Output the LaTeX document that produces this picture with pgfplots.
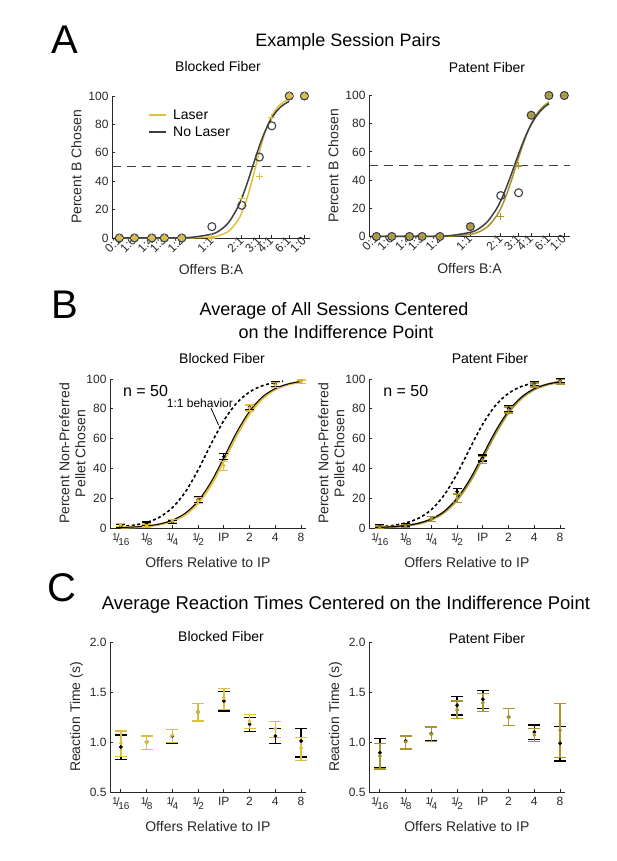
\documentclass[border=0pt]{standalone}
\usepackage{fontspec}
\setmainfont{Liberation Sans}
\usepackage{pgfplots}
\pgfplotsset{compat=1.18}

\definecolor{goldL}{RGB}{224,192,58}
\definecolor{goldR}{RGB}{168,148,40}
\definecolor{darkg}{RGB}{62,62,72}
\definecolor{fillL}{RGB}{200,184,112}
\definecolor{fillR}{RGB}{178,164,96}
\definecolor{axgray}{RGB}{40,40,40}

% fraction tick labels like 1/16
\newcommand\fr[2]{\raisebox{0.4ex}{\fontsize{10}{10}\selectfont #1}\kern-0.12em/\kern-0.12em\raisebox{-0.35ex}{\fontsize{10}{10}\selectfont #2}}

\pgfplotsset{
  panel/.style={scale only axis, axis lines*=left, tick align=inside,
    major tick length=3pt,
    axis line style={line width=0.9pt, axgray},
    every tick/.style={line width=0.8pt, axgray},
    tick label style={font=\fontsize{12}{14}\selectfont, text=axgray},
    label style={font=\fontsize{14}{16}\selectfont, text=axgray},
    /pgf/number format/assume math mode=true, clip=false},
  panA/.style={panel, width=198pt, height=142pt,
    xmin=-2.31, xmax=2.27, ymin=0, ymax=100,
    xtick={-2.14,-1.79,-1.386,-1.099,-0.693,0,0.693,1.099,1.386,1.79,2.14},
    xticklabels={0:1,1:6,1:4,1:3,1:2,1:1,2:1,3:1,4:1,6:1,1:0},
    xticklabel style={rotate=45, anchor=east, inner sep=0.5pt},
    ytick={0,20,40,60,80,100}, xlabel shift=7pt,
    xlabel={Offers B:A}, ylabel={Percent B Chosen}},
  relx/.style={xmin=-4.42, xmax=3.18, xtick={-4,-3,-2,-1,0,1,2,3},
    xticklabels={\fr{1}{16},\fr{1}{8},\fr{1}{4},\fr{1}{2},IP,2,4,8},
    xticklabel style={yshift=-2pt}, xlabel shift=5pt,
    xlabel={Offers Relative to IP}},
  panB/.style={panel, relx, width=195.7pt, height=149pt, ymin=0, ymax=100,
    ytick={0,20,40,60,80,100}, ylabel shift=-6pt,
    ylabel={Percent Non-Preferred\\Pellet Chosen}, ylabel style={align=center}},
  panC/.style={panel, relx, width=195.7pt, height=150pt, ymin=0.5, ymax=2.0,
    ytick={0.5,1,1.5,2},
    yticklabel style={/pgf/number format/.cd, fixed, fixed zerofill, precision=1},
    ylabel={Reaction Time (s)}},
  errB/.style={#1, only marks, mark=*, mark size=1.6pt,
    error bars/.cd, y dir=both, y explicit,
    error bar style={line width=1.2pt, #1},
    error mark options={rotate=90, mark size=4.5pt, line width=1.3pt, #1}},
  errC/.style={#1, only marks, mark=*, mark size=1.7pt,
    error bars/.cd, y dir=both, y explicit,
    error bar style={line width=1.4pt, #1},
    error mark options={rotate=90, mark size=6pt, line width=1.5pt, #1}},
}

\begin{document}
\begin{tikzpicture}
\path[use as bounding box] (0,0) rectangle (617pt,861pt);

% ---------- headings ----------
\node[font=\fontsize{40}{40}\selectfont] at (65pt,821pt) {A};
\node[font=\fontsize{18}{20}\selectfont] at (348pt,819pt) {Example Session Pairs};
\node[font=\fontsize{14}{16}\selectfont] at (218pt,794pt) {Blocked Fiber};
\node[font=\fontsize{14}{16}\selectfont] at (487pt,793pt) {Patent Fiber};

\node[font=\fontsize{40}{40}\selectfont] at (65pt,556pt) {B};
\node[font=\fontsize{18}{20}\selectfont] at (334pt,550pt) {Average of All Sessions Centered};
\node[font=\fontsize{18}{20}\selectfont] at (336pt,529pt) {on the Indifference Point};
\node[font=\fontsize{14}{16}\selectfont] at (222pt,502pt) {Blocked Fiber};
\node[font=\fontsize{14}{16}\selectfont] at (490pt,502pt) {Patent Fiber};

\node[font=\fontsize{40}{40}\selectfont] at (62pt,273pt) {C};
\node[font=\fontsize{18.5}{20}\selectfont] at (346pt,256pt) {Average Reaction Times Centered on the Indifference Point};
\node[font=\fontsize{14}{16}\selectfont] at (221pt,224pt) {Blocked Fiber};
\node[font=\fontsize{14}{16}\selectfont] at (487pt,223pt) {Patent Fiber};

% ---------- A left ----------
\begin{axis}[panA, at={(112pt,623pt)}, anchor=south west]
\addplot[darkg, dash pattern=on 9pt off 6pt, line width=1pt] coordinates {(-2.31,50) (2.27,50)};
\addplot[goldL, line width=1.5pt, smooth] coordinates {
(-2.14,0)(-1,0)(-0.5,0.07)(0,0.78)(0.2,2.0)(0.4,5.1)(0.6,12.2)(0.7,18.4)(0.8,26.7)(0.9,37.0)(1.0,48.8)(1.1,60.6)(1.2,71.3)(1.3,80.1)(1.4,86.6)(1.5,91.3)(1.6,94.4)(1.7,96.5)(1.79,97.7)};
\addplot[darkg, line width=1.5pt, smooth] coordinates {
(-2.14,0)(-1,0.06)(-0.5,0.42)(0,2.74)(0.2,5.68)(0.4,11.4)(0.6,21.6)(0.7,28.7)(0.8,37.0)(0.9,46.3)(1.0,55.7)(1.1,64.8)(1.2,72.9)(1.3,79.7)(1.4,85.2)(1.5,89.4)(1.6,92.5)(1.7,94.7)(1.79,96.2)};
\addplot[only marks, mark=*, mark size=4pt, mark options={fill=fillL, draw=darkg, line width=1.1pt}] coordinates {
(-2.14,0)(-1.79,0)(-1.386,0)(-1.099,0)(-0.693,0)(1.79,100)(2.14,100)};
\addplot[only marks, mark=o, mark size=4pt, mark options={draw=darkg, line width=1.1pt}] coordinates {
(0,8)(0.693,23)(1.099,57)(1.386,79)};
\addplot[only marks, mark=+, mark size=3.5pt, mark options={draw=goldL, line width=1.1pt}] coordinates {
(-2.14,0)(-1.79,0)(-1.386,0)(-1.099,0)(-0.693,0)(0,0)(0.693,28)(1.099,43)(1.386,85)(1.79,100)(2.14,100)};
% legend
\draw[goldL, line width=1.6pt] (axis cs:-1.45,86.6) -- (axis cs:-1.06,86.6);
\draw[darkg, line width=1.6pt] (axis cs:-1.45,74.6) -- (axis cs:-1.06,74.6);
\node[anchor=west, inner sep=0pt, font=\fontsize{14}{16}\selectfont] at (axis cs:-0.9,86.6) {Laser};
\node[anchor=west, inner sep=0pt, font=\fontsize{14}{16}\selectfont] at (axis cs:-0.9,74.6) {No Laser};
\end{axis}

% ---------- A right ----------
\begin{axis}[panA, at={(369pt,624.5pt)}, anchor=south west, width=201pt, height=141pt]
\addplot[darkg, dash pattern=on 9pt off 6pt, line width=1pt] coordinates {(-2.31,50) (2.27,50)};
\addplot[goldR, line width=1.5pt, smooth] coordinates {
(-2.14,0)(-1,0.03)(-0.5,0.21)(0,1.54)(0.2,3.36)(0.4,7.2)(0.6,14.7)(0.7,20.4)(0.8,27.7)(0.9,36.4)(1.0,46.0)(1.1,56.0)(1.2,65.5)(1.3,73.9)(1.4,80.8)(1.5,86.3)(1.6,90.4)(1.7,93.3)(1.79,95.3)};
\addplot[darkg, line width=1.5pt, smooth] coordinates {
(-2.14,0)(-1,0.09)(-0.5,0.52)(0,2.93)(0.2,5.7)(0.4,10.9)(0.6,19.8)(0.7,25.9)(0.8,33.2)(0.9,41.3)(1.0,50)(1.1,58.7)(1.2,66.8)(1.3,74.1)(1.4,80.2)(1.5,85.2)(1.6,89.1)(1.7,92.1)(1.79,94.1)};
\addplot[only marks, mark=*, mark size=4pt, mark options={fill=fillR, draw=darkg, line width=1.1pt}] coordinates {
(-2.14,0)(-1.79,0)(-1.386,0)(-1.099,0)(-0.693,0)(0,7)(1.386,86)(1.79,100)(2.14,100)};
\addplot[only marks, mark=o, mark size=4pt, mark options={draw=darkg, line width=1.1pt}] coordinates {
(0.693,29)(1.099,31)};
\addplot[only marks, mark=+, mark size=3.5pt, mark options={draw=goldR, line width=1.1pt}] coordinates {
(-2.14,0)(-1.79,0)(-1.386,0)(-1.099,0)(-0.693,0)(0,7)(0.693,14)(1.099,50)(1.386,86)(1.79,100)(2.14,100)};
\end{axis}

% ---------- B left ----------
\begin{axis}[panB, at={(110pt,333pt)}, anchor=south west]
\addplot[black, dash pattern=on 3pt off 2.5pt, line width=1.6pt, smooth] coordinates {
(-4,0.95)(-3.5,1.89)(-3,3.73)(-2.5,7.2)(-2,13.6)(-1.5,24.0)(-1,38.9)(-0.5,56.2)(0,72.1)(0.5,83.9)(1,91.3)(1.5,95.5)(2,97.7)(2.3,98.5)};
\addplot[goldL, line width=2.4pt, smooth] coordinates {
(-4,0.30)(-3.5,0.61)(-3,1.21)(-2.5,2.41)(-2,4.74)(-1.5,9.1)(-1,16.8)(-0.5,28.9)(0,45.1)(0.5,62.3)(1,76.9)(1.5,87.0)(2,93.1)(2.5,96.4)(3,98.2)};
\addplot[black, line width=1pt, smooth] coordinates {
(-4,0.33)(-3.5,0.66)(-3,1.33)(-2.5,2.63)(-2,5.2)(-1.5,9.9)(-1,18.1)(-0.5,30.8)(0,47.3)(0.5,64.3)(1,78.4)(1.5,88.0)(2,93.6)(2.5,96.7)(3,98.4)};
\addplot[errB=black] coordinates {
(-4,1.6) +- (0,1.0) (-3,3.1) +- (0,1.0) (-2,4.3) +- (0,1.0) (-1,18.8) +- (0,2.0)
(0,47.9) +- (0,2.0) (1,81.0) +- (0,1.5) (2,96.5) +- (0,1.5) (3,98.3) +- (0,1.2)};
\addplot[errB=goldL] coordinates {
(-4,2.0) +- (0,1.2) (-3,1.6) +- (0,1.0) (-2,4.7) +- (0,1.2) (-1,18.5) +- (0,2.2)
(0,41.8) +- (0,3.0) (1,80.5) +- (0,2.0) (2,96.0) +- (0,1.5) (3,98.2) +- (0,1.2)};
\node[anchor=west, font=\fontsize{16}{18}\selectfont] at (axis cs:-4.05,92) {n = 50};
\node[font=\fontsize{12}{14}\selectfont, inner sep=1pt] at (axis cs:-0.93,84) {1:1 behavior};
\draw[black, line width=0.8pt] (axis cs:-0.5,80.5) -- (axis cs:-0.2,69);
\end{axis}

% ---------- B right ----------
\begin{axis}[panB, at={(369pt,333pt)}, anchor=south west]
\addplot[black, dash pattern=on 3pt off 2.5pt, line width=1.6pt, smooth] coordinates {
(-4,0.85)(-3.5,1.69)(-3,3.36)(-2.5,6.5)(-2,12.3)(-1.5,22.1)(-1,36.4)(-0.5,53.5)(0,69.8)(0.5,82.4)(1,90.4)(1.5,95.0)(2,97.4)(2.12,97.8)};
\addplot[goldR, line width=2.4pt, smooth] coordinates {
(-4,0.40)(-3.5,0.78)(-3,1.55)(-2.5,2.98)(-2,5.7)(-1.5,10.6)(-1,19.0)(-0.5,31.3)(0,47.3)(0.5,63.8)(1,77.6)(1.5,87.2)(2,93.1)(2.5,96.3)(3,98.1)};
\addplot[black, line width=1pt, smooth] coordinates {
(-4,0.43)(-3.5,0.84)(-3,1.65)(-2.5,3.17)(-2,6.06)(-1.5,11.2)(-1,20.0)(-0.5,32.8)(0,49.0)(0.5,65.3)(1,78.7)(1.5,87.9)(2,93.5)(2.5,96.5)(3,98.2)};
\addplot[errB=black] coordinates {
(-4,1.0) +- (0,1.0) (-3,1.6) +- (0,1.0) (-2,6.0) +- (0,1.5) (-1,24.4) +- (0,2.0)
(0,47.0) +- (0,2.0) (1,80.3) +- (0,2.0) (2,96.6) +- (0,1.3) (3,98.7) +- (0,1.2)};
\addplot[errB=goldR] coordinates {
(-4,0.5) +- (0,0.8) (-3,1.3) +- (0,1.0) (-2,6.0) +- (0,1.5) (-1,20.0) +- (0,2.8)
(0,45.6) +- (0,2.5) (1,79.2) +- (0,2.0) (2,96.0) +- (0,1.4) (3,98.2) +- (0,1.5)};
\node[anchor=west, font=\fontsize{16}{18}\selectfont] at (axis cs:-4.0,92) {n = 50};
\end{axis}

% ---------- C left ----------
\begin{axis}[panC, at={(110pt,69pt)}, anchor=south west]
\addplot[errC=black] coordinates {
(-4,0.95) += (0,0.12) -= (0,0.123)
(-3,1.00) += (0,0.063) -= (0,0.073)
(-2,1.06) += (0,0.067) -= (0,0.077)
(-1,1.30) += (0,0.083) -= (0,0.09)
(0,1.41) += (0,0.093) -= (0,0.10)
(1,1.177) += (0,0.066) -= (0,0.074)
(2,1.06) += (0,0.077) -= (0,0.077)
(3,1.01) += (0,0.127) -= (0,0.16)};
\addplot[errC=goldL] coordinates {
(-4,0.987) += (0,0.123) -= (0,0.134)
(-3,1.00) += (0,0.06) -= (0,0.077)
(-2,1.067) += (0,0.06) -= (0,0.074)
(-1,1.30) += (0,0.083) -= (0,0.09)
(0,1.437) += (0,0.10) -= (0,0.11)
(1,1.207) += (0,0.07) -= (0,0.07)
(2,1.133) += (0,0.074) -= (0,0.09)
(3,0.94) += (0,0.107) -= (0,0.127)};
\end{axis}

% ---------- C right ----------
\begin{axis}[panC, at={(369pt,69pt)}, anchor=south west]
\addplot[errC=black] coordinates {
(-4,0.893) += (0,0.144) -= (0,0.15)
(-3,1.01) += (0,0.057) -= (0,0.073)
(-2,1.083) += (0,0.067) -= (0,0.073)
(-1,1.367) += (0,0.086) -= (0,0.097)
(0,1.427) += (0,0.09) -= (0,0.09)
(1,1.25) += (0,0.083) -= (0,0.083)
(2,1.10) += (0,0.07) -= (0,0.073)
(3,0.987) += (0,0.17) -= (0,0.177)};
\addplot[errC=goldR] coordinates {
(-4,0.86) += (0,0.127) -= (0,0.13)
(-3,1.00) += (0,0.06) -= (0,0.07)
(-2,1.077) += (0,0.073) -= (0,0.074)
(-1,1.32) += (0,0.09) -= (0,0.087)
(0,1.393) += (0,0.09) -= (0,0.09)
(1,1.25) += (0,0.083) -= (0,0.083)
(2,1.07) += (0,0.067) -= (0,0.067)
(3,1.117) += (0,0.27) -= (0,0.274)};
\end{axis}
\end{tikzpicture}
\end{document}
